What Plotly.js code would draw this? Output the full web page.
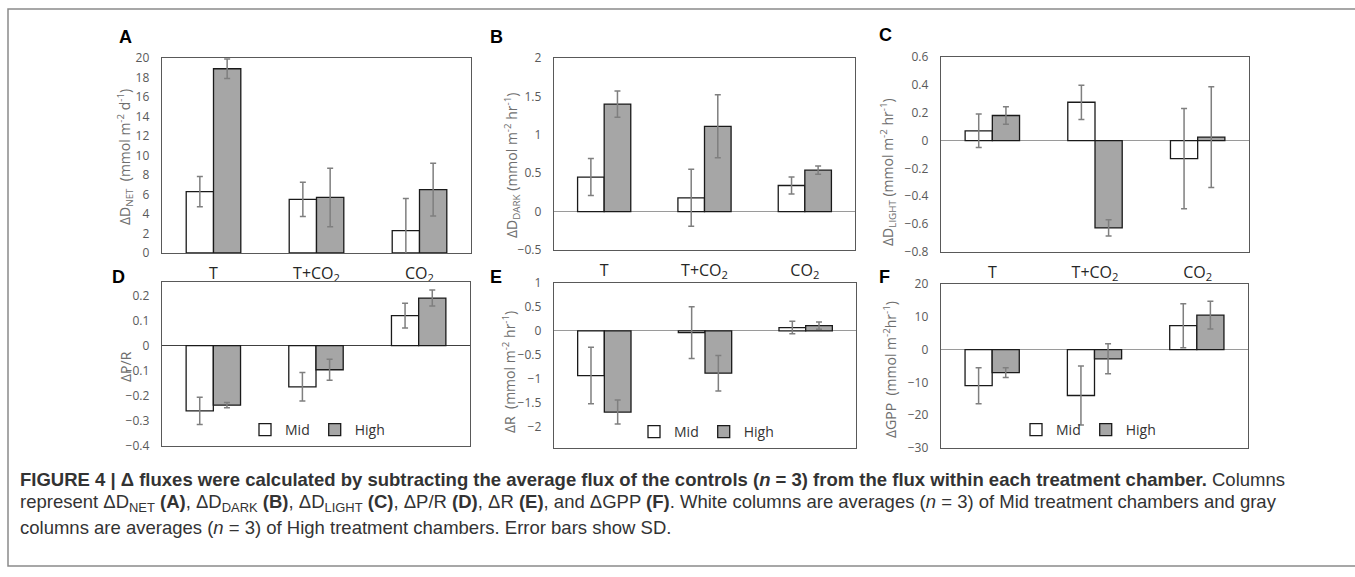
<!DOCTYPE html>
<html>
<head>
<meta charset="utf-8">
<script src="https://cdn.plot.ly/plotly-3.0.1.min.js"></script>
<style>
html,body{margin:0;padding:0;background:#fff;}
#chart{width:1355px;height:577px;}
</style>
</head>
<body>
<div id="chart"></div>
<script>
// ---- data ----
var categories = ['T', 'T+CO2', 'CO2'];
var categoryLabels = ['T', 'T+CO<sub>2</sub>', 'CO<sub>2</sub>'];
var seriesNames = ['Mid', 'High'];

var dnetMid = [6.3, 5.5, 2.3];
var dnetMidSD = [1.55, 1.75, 3.3];
var dnetHigh = [18.9, 5.7, 6.5];
var dnetHighSD = [1.0, 3.0, 2.7];

var ddarkMid = [0.45, 0.18, 0.34];
var ddarkMidSD = [0.24, 0.37, 0.11];
var ddarkHigh = [1.40, 1.11, 0.54];
var ddarkHighSD = [0.17, 0.41, 0.055];

var dlightMid = [0.07, 0.275, -0.13];
var dlightMidSD = [0.12, 0.123, 0.36];
var dlightHigh = [0.18, -0.627, 0.025];
var dlightHighSD = [0.063, 0.058, 0.362];

var prMid = [-0.26, -0.164, 0.12];
var prMidSD = [0.054, 0.057, 0.049];
var prHigh = [-0.237, -0.096, 0.19];
var prHighSD = [0.01, 0.042, 0.032];

var rMid = [-0.93, -0.035, 0.07];
var rMidSD = [0.59, 0.54, 0.13];
var rHigh = [-1.69, -0.88, 0.11];
var rHighSD = [0.25, 0.37, 0.075];

var gppMid = [-11.0, -14.0, 7.3];
var gppMidSD = [5.5, 9.0, 6.7];
var gppHigh = [-7.0, -2.8, 10.5];
var gppHighSD = [1.5, 4.55, 4.25];

// ---- layout helpers ----
var W = 1355, H = 577;
function fx(p){ return p / W; }
function fy(p){ return 1 - p / H; }

var MID_FILL = '#ffffff', HIGH_FILL = '#a6a6a6', EDGE = '#1a1a1a', ERR = '#7f7f7f';

function barTrace(name, x, y, sd, fill, axn, legendId, showLeg){
  var xa = axn === 1 ? 'x' : 'x' + axn;
  var ya = axn === 1 ? 'y' : 'y' + axn;
  var t = {
    type: 'bar', name: name, x: x, y: y,
    xaxis: xa, yaxis: ya,
    marker: {color: fill, line: {color: EDGE, width: 1.3}},
    error_y: {type: 'data', array: sd, visible: true, color: ERR, thickness: 1.5, width: 3},
    showlegend: showLeg,
    hoverinfo: 'none'
  };
  if (legendId) t.legend = legendId;
  return t;
}

var panels = [
  {mid: dnetMid, midSD: dnetMidSD, high: dnetHigh, highSD: dnetHighSD, leg: null},
  {mid: ddarkMid, midSD: ddarkMidSD, high: ddarkHigh, highSD: ddarkHighSD, leg: null},
  {mid: dlightMid, midSD: dlightMidSD, high: dlightHigh, highSD: dlightHighSD, leg: null},
  {mid: prMid, midSD: prMidSD, high: prHigh, highSD: prHighSD, leg: 'legend'},
  {mid: rMid, midSD: rMidSD, high: rHigh, highSD: rHighSD, leg: 'legend2'},
  {mid: gppMid, midSD: gppMidSD, high: gppHigh, highSD: gppHighSD, leg: 'legend3'}
];

var data = [];
panels.forEach(function(p, i){
  var n = i + 1;
  var show = !!p.leg;
  data.push(barTrace(seriesNames[0], categories, p.mid, p.midSD, MID_FILL, n, p.leg, show));
  data.push(barTrace(seriesNames[1], categories, p.high, p.highSD, HIGH_FILL, n, p.leg, show));
});

// plot-area boxes in pixels: [left, right, top, bottom]
var boxes = [
  [162, 471, 58, 253],
  [554, 855, 58, 250],
  [941, 1249, 57, 252],
  [162, 470, 282, 446],
  [554, 856, 283, 448],
  [941, 1248, 284, 448]
];
var yRanges = [[0, 20], [-0.5, 2], [-0.8, 0.6], [-0.4, 0.254], [-2.44, 1], [-30, 20]];
var yDtick = [2, 0.5, 0.2, 0.1, 0.5, 10];
var zeroColors = [null, '#9a9a9a', '#9a9a9a', '#404040', '#9a9a9a', '#9a9a9a'];

var layout = {
  width: W, height: H,
  margin: {l: 0, r: 0, t: 0, b: 0},
  paper_bgcolor: '#ffffff', plot_bgcolor: '#ffffff',
  barmode: 'group', bargap: 0.47, bargroupgap: 0,
  showlegend: true,
  font: {family: 'Open Sans, sans-serif', color: '#595959'},
  annotations: [], shapes: []
};

boxes.forEach(function(b, i){
  var n = i + 1;
  var xk = n === 1 ? 'xaxis' : 'xaxis' + n;
  var yk = n === 1 ? 'yaxis' : 'yaxis' + n;
  var topRow = i < 3;
  layout[xk] = {
    domain: [fx(b[0]), fx(b[1])],
    anchor: n === 1 ? 'y' : 'y' + n,
    type: 'category',
    range: [-0.5, 2.5],
    tickvals: categories, ticktext: categoryLabels,
    showticklabels: topRow,
    tickfont: {size: 16, color: '#262626', family: 'Open Sans, sans-serif'},
    ticks: '', ticklabelstandoff: 5,
    showline: true, mirror: true, linecolor: '#595959', linewidth: 1.3,
    showgrid: false, zeroline: false, fixedrange: true
  };
  layout[yk] = {
    domain: [fy(b[3]), fy(b[2])],
    anchor: n === 1 ? 'x' : 'x' + n,
    range: yRanges[i],
    dtick: yDtick[i], tick0: 0,
    tickfont: {size: 12, color: '#595959', family: 'Open Sans, sans-serif'},
    ticks: '', ticklabelstandoff: 9,
    showline: true, mirror: true, linecolor: '#595959', linewidth: 1.3,
    showgrid: false,
    zeroline: !!zeroColors[i], zerolinecolor: zeroColors[i] || '#999', zerolinewidth: 1,
    fixedrange: true
  };
});

// legends for the bottom row
var legPos = [[245, 430], [634, 432], [1016, 430]];
['legend', 'legend2', 'legend3'].forEach(function(k, i){
  layout[k] = {
    x: fx(legPos[i][0]), y: fy(legPos[i][1]), xanchor: 'left', yanchor: 'middle',
    orientation: 'h', bgcolor: 'rgba(0,0,0,0)',
    font: {size: 14, color: '#333333', family: 'Open Sans, sans-serif'},
    itemwidth: 30, traceorder: 'normal'
  };
});

// panel letters
var letters = [['A', 125, 37], ['B', 497, 37], ['C', 885, 35], ['D', 118, 277], ['E', 496, 277], ['F', 884, 277]];
letters.forEach(function(l){
  layout.annotations.push({
    text: '<b>' + l[0] + '</b>', x: fx(l[1]), y: fy(l[2]), xref: 'paper', yref: 'paper',
    xanchor: 'center', yanchor: 'middle', showarrow: false,
    font: {size: 18, color: '#000000', family: 'Liberation Sans, Arial, sans-serif'}
  });
});

// y-axis titles
var yTitles = [
  ['ΔD<sub>NET</sub>  (mmol m<sup>-2</sup> d<sup>-1</sup>)', 125, 157],
  ['ΔD<sub>DARK</sub> (mmol m<sup>-2</sup> hr<sup>-1</sup>)', 512, 165],
  ['ΔD<sub>LIGHT</sub> (mmol m<sup>-2</sup> hr<sup>-1</sup>)', 888, 172],
  ['ΔP/R', 125, 367],
  ['ΔR  (mmol m<sup>-2</sup> hr<sup>-1</sup>)', 509, 372],
  ['ΔGPP  (mmol m<sup>-2</sup>hr<sup>-1</sup>)', 890, 370]
];
yTitles.forEach(function(t){
  layout.annotations.push({
    text: t[0], x: fx(t[1]), y: fy(t[2]), xref: 'paper', yref: 'paper',
    xanchor: 'center', yanchor: 'middle', textangle: -90, showarrow: false,
    font: {size: 14, color: '#6e6e6e', family: 'Open Sans, sans-serif'}
  });
});

// caption
var captionLines = [
  '<b>FIGURE 4 | Δ fluxes were calculated by subtracting the average flux of the controls (<i>n</i> = 3) from the flux within each treatment chamber.</b> Columns',
  'represent ΔD<sub>NET</sub> <b>(A)</b>, ΔD<sub>DARK</sub> <b>(B)</b>, ΔD<sub>LIGHT</sub> <b>(C)</b>, ΔP/R <b>(D)</b>, ΔR <b>(E)</b>, and ΔGPP <b>(F)</b>. White columns are averages (<i>n</i> = 3) of Mid treatment chambers and gray',
  'columns are averages (<i>n</i> = 3) of High treatment chambers. Error bars show SD.'
];
var capY = [479, 503, 527];
captionLines.forEach(function(c, i){
  layout.annotations.push({
    text: c, x: fx(18), y: fy(capY[i]), xref: 'paper', yref: 'paper',
    xanchor: 'left', yanchor: 'middle', align: 'left', showarrow: false,
    font: {size: 18.5, color: '#333333', family: 'Liberation Sans, Arial, sans-serif'}
  });
});

// outer frame
layout.shapes.push({
  type: 'rect', xref: 'paper', yref: 'paper',
  x0: fx(8), x1: fx(1362), y0: fy(566), y1: fy(9),
  line: {color: '#8a8a8a', width: 1.5}, fillcolor: 'rgba(0,0,0,0)', layer: 'below'
});

Plotly.newPlot('chart', data, layout, {displayModeBar: false, staticPlot: true});
</script>
</body>
</html>
